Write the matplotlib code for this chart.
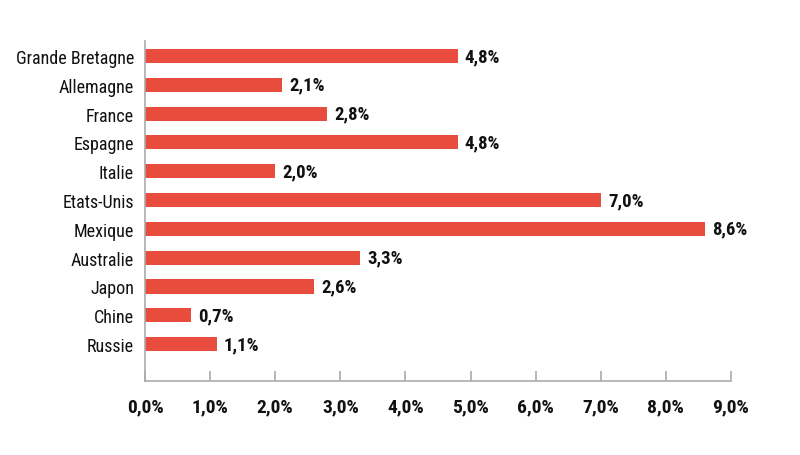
import matplotlib
matplotlib.use("Agg")
import matplotlib.pyplot as plt
from matplotlib.ticker import FixedLocator, FuncFormatter

categories = ["Grande Bretagne", "Allemagne", "France", "Espagne", "Italie",
              "Etats-Unis", "Mexique", "Australie", "Japon", "Chine", "Russie"]
values = [4.8, 2.1, 2.8, 4.8, 2.0, 7.0, 8.6, 3.3, 2.6, 0.7, 1.1]
value_labels = ["4,8%", "2,1%", "2,8%", "4,8%", "2,0%", "7,0%", "8,6%",
                "3,3%", "2,6%", "0,7%", "1,1%"]
xticks = [0, 1, 2, 3, 4, 5, 6, 7, 8, 9]

fam = ['Liberation Sans Narrow', 'Roboto Condensed', 'DejaVu Sans Condensed', 'DejaVu Sans']
plt.rcParams['font.family'] = fam

fig = plt.figure(figsize=(8, 4.56), dpi=100)
ax = fig.add_axes([145/800, 1-382/456, (731-145)/800, (382-42)/456])

y = list(range(len(categories)))
ax.barh(y, values, height=0.49, color="#e84c3d")
for yi, v, lab in zip(y, values, value_labels):
    ax.text(v + 0.11, yi, lab, va="center", ha="left", fontsize=13.5,
            fontweight="bold", color="#111111")

ax.set_xlim(0, 9)
ax.set_ylim(len(categories) - 1 + 1.28, -0.52)
ax.set_yticks(y)
ax.set_yticklabels(categories, fontsize=13, color="#111111")
ax.xaxis.set_major_locator(FixedLocator(xticks))
ax.xaxis.set_major_formatter(FuncFormatter(lambda v, p: f"{v:.1f}".replace(".", ",") + "%"))
for t in ax.get_xticklabels():
    t.set_fontweight("bold")
    t.set_fontsize(14)
    t.set_color("#111111")

for s in ["top", "right"]:
    ax.spines[s].set_visible(False)
for s in ["left", "bottom"]:
    ax.spines[s].set_color("#aaaaaa")
    ax.spines[s].set_linewidth(1.2)
ax.tick_params(axis="y", length=0, pad=8)
ax.tick_params(axis="x", direction="in", length=7, color="#aaaaaa", width=1.2, pad=12)

fig.savefig("out.png", dpi=100, facecolor="white")
